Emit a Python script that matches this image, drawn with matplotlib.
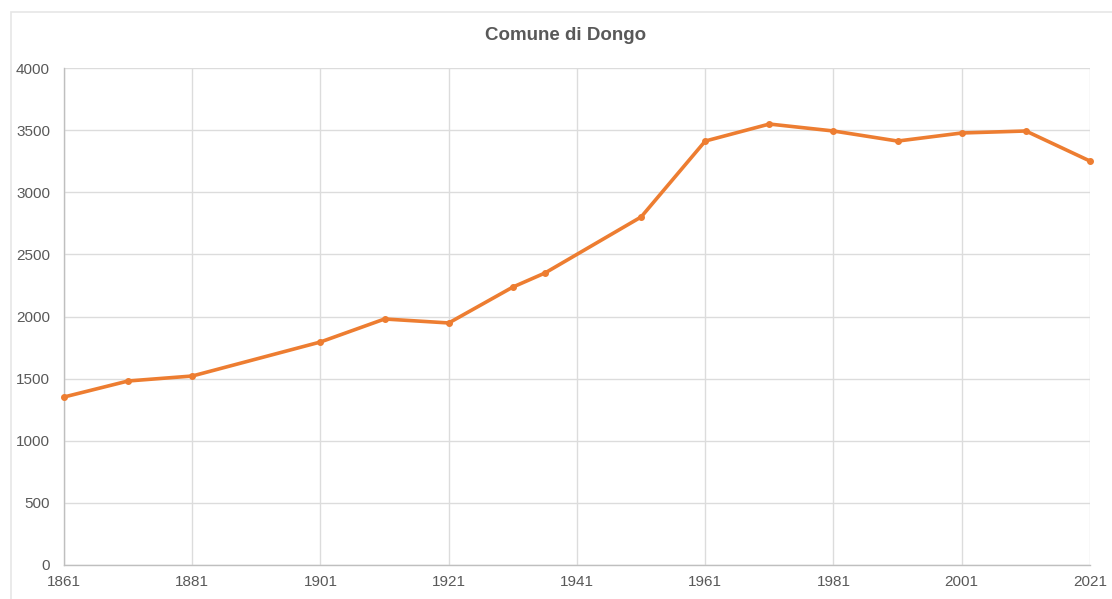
import matplotlib.pyplot as plt
from matplotlib.patches import Rectangle

years = [1861, 1871, 1881, 1901, 1911, 1921, 1931, 1936, 1951,
         1961, 1971, 1981, 1991, 2001, 2011, 2021]
population = [1352, 1481, 1521, 1795, 1980, 1948, 2237, 2350, 2801,
              3412, 3549, 3493, 3412, 3477, 3493, 3251]
xticks = list(range(1861, 2022, 20))
yticks = list(range(0, 4001, 500))

plt.rcParams['font.family'] = ['Liberation Sans', 'DejaVu Sans']

fig = plt.figure(figsize=(11.12, 5.99), dpi=100)
ax = fig.add_axes([64 / 1112, 1 - 565 / 599, (1090 - 64) / 1112, (565 - 68) / 599])

# outer chart frame
fig.patches.append(Rectangle((11 / 1112, -0.05), 1.1, 1 - 12 / 599 + 0.05,
                             transform=fig.transFigure, fill=False,
                             edgecolor='#e6e6e6', linewidth=1.2))

ax.plot(years, population, color='#ed7d31', linewidth=2.6,
        marker='o', markersize=4, zorder=3, clip_on=False)

ax.set_xlim(1861, 2021)
ax.set_ylim(0, 4000)
ax.set_xticks(xticks)
ax.set_yticks(yticks)
ax.tick_params(axis='y', length=0, labelsize=11, colors='#595959', pad=10)
ax.tick_params(axis='x', length=0, labelsize=11, colors='#595959', pad=7)
ax.grid(True, color='#dcdcdc', linewidth=1)
ax.set_axisbelow(True)
for s in ['top', 'right']:
    ax.spines[s].set_visible(False)
for s in ['left', 'bottom']:
    ax.spines[s].set_color('#bfbfbf')
    ax.spines[s].set_linewidth(1)

fig.text(566 / 1112, 1 - 36 / 599, 'Comune di Dongo', ha='center', va='center',
         fontsize=13.5, fontweight='bold', color='#595959')

fig.savefig('out.png', dpi=100)
